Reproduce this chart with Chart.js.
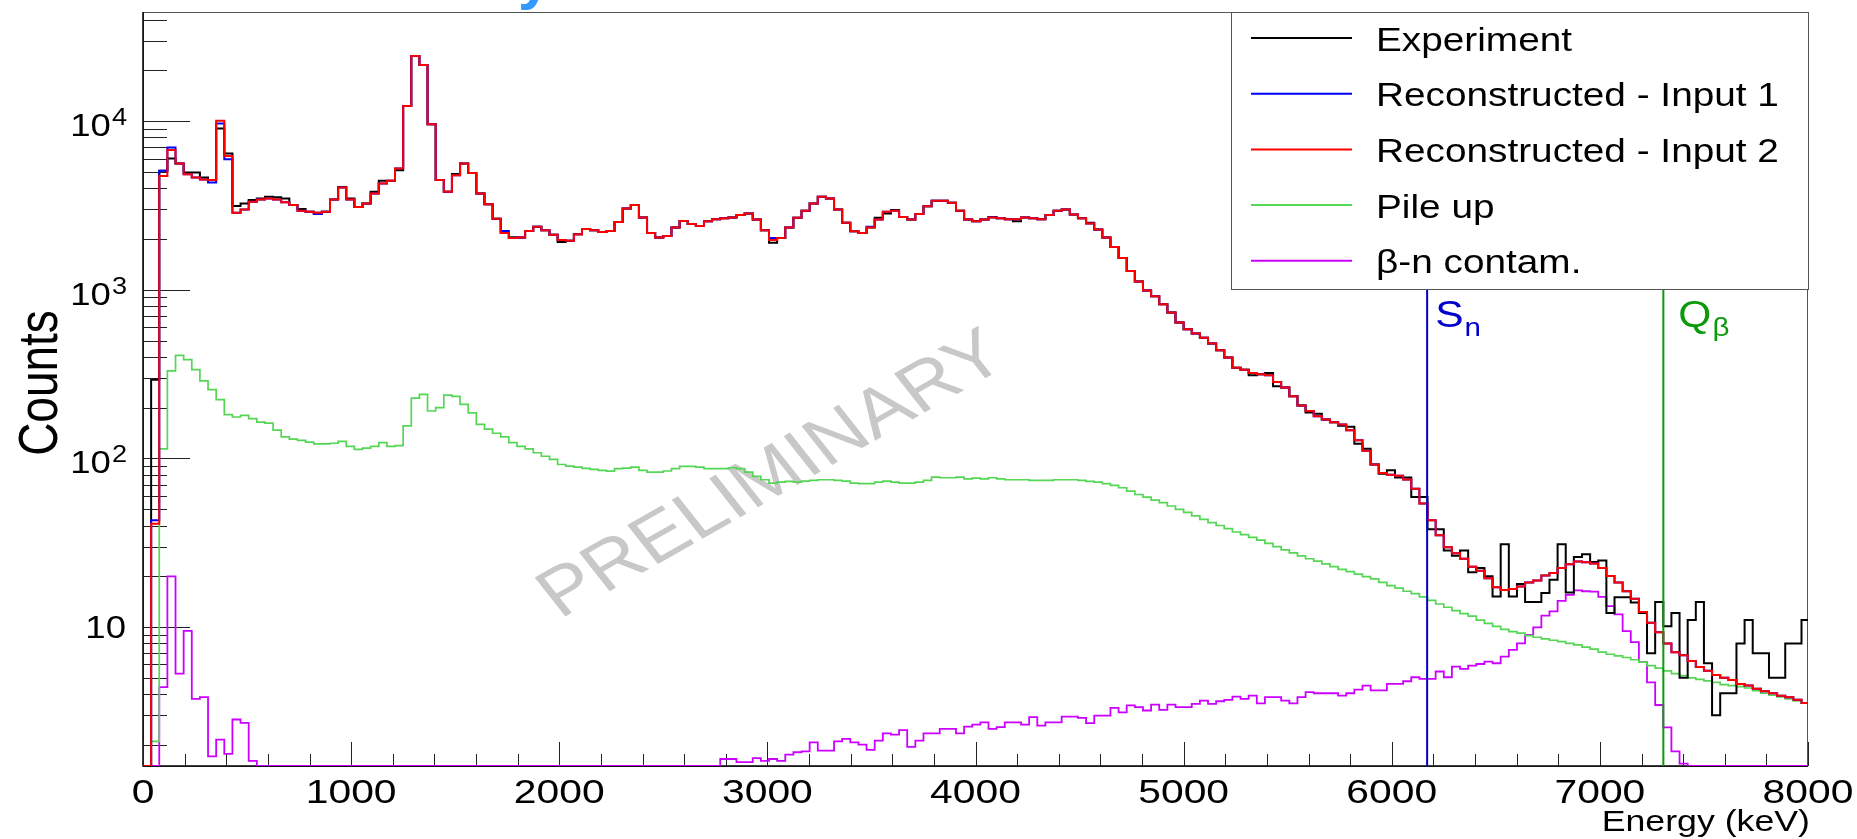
<!DOCTYPE html>
<html>
<head>
<meta charset="utf-8">
<script src="https://cdn.jsdelivr.net/npm/chart.js@4.4.1/dist/chart.umd.min.js"></script>
<style>
  html, body { margin: 0; padding: 0; background: #fff; }
  canvas { display: block; }
</style>
</head>
<body>
<canvas id="spectrum" width="1857" height="839"></canvas>
<script>
// histogram bin width in keV (bins start at 0)
const BIN_WIDTH = 39.0625;

const experiment = [
  0, 293, 5070, 6010, 5610, 4950, 4950, 4630, 4470, 9050,
  6430, 3140, 3250, 3400, 3480, 3560, 3530, 3480, 3180, 3010,
  2900, 2860, 2900, 3430, 4070, 3480, 3100, 3250, 3810, 4430,
  4430, 5110, 12270, 24300, 21500, 9590, 4470, 3810, 4860, 5610,
  4930, 3720, 3210, 2640, 2170, 2050, 2040, 2230, 2360, 2250,
  2120, 1920, 1950, 2130, 2290, 2250, 2200, 2230, 2520, 3030,
  3180, 2680, 2170, 2040, 2080, 2340, 2560, 2450, 2390, 2550,
  2620, 2650, 2680, 2770, 2830, 2610, 2250, 1900, 2030, 2340,
  2670, 2940, 3250, 3560, 3480, 2990, 2500, 2220, 2170, 2340,
  2670, 2830, 2970, 2700, 2610, 2810, 3130, 3370, 3370, 3280,
  2940, 2610, 2550, 2610, 2700, 2650, 2620, 2550, 2680, 2650,
  2620, 2770, 2940, 2990, 2790, 2650, 2500, 2280, 2040, 1790,
  1540, 1290, 1120, 990, 914, 820, 732, 639, 583, 550,
  520, 480, 438, 396, 345, 336, 311, 315, 321, 268,
  263, 234, 206, 187, 184, 170, 164, 156, 154, 122,
  114, 92, 81, 85, 77, 77, 59, 59, 38, 38,
  28.4, 26.5, 28.4, 21.1, 22.4, 20, 15.2, 31, 15.2, 18,
  14.1, 14.1, 15.9, 19.1, 31, 16, 26, 27, 24.3, 24.8,
  12.1, 15, 15, 14, 12.1, 7.0, 14.1, 10.1, 12.1, 5.0,
  11, 14.1, 6.1, 3.0, 4.05, 4.05, 8.0, 11, 7.0, 7.0,
  5.0, 5.0, 8.0, 8.0, 11
];

const input1 = [
  0, 43, 5070, 6980, 5610, 4840, 4630, 4510, 4330, 9690,
  5950, 2860, 2990, 3320, 3430, 3480, 3430, 3300, 3180, 2940,
  2900, 2810, 2900, 3430, 4040, 3430, 3100, 3250, 3720, 4270,
  4430, 5240, 12270, 24300, 21500, 9590, 4470, 3810, 4780, 5610,
  4930, 3720, 3210, 2640, 2230, 2030, 2040, 2230, 2360, 2250,
  2120, 1970, 1950, 2130, 2290, 2250, 2200, 2230, 2520, 3030,
  3180, 2680, 2170, 2040, 2080, 2340, 2560, 2450, 2390, 2550,
  2620, 2650, 2680, 2770, 2830, 2610, 2250, 2030, 2030, 2340,
  2670, 2940, 3250, 3560, 3480, 2990, 2500, 2220, 2170, 2360,
  2610, 2900, 2940, 2700, 2610, 2810, 3130, 3370, 3370, 3280,
  2940, 2610, 2550, 2610, 2680, 2650, 2620, 2620, 2680, 2650,
  2620, 2770, 2940, 2990, 2790, 2650, 2470, 2280, 2040, 1790,
  1540, 1290, 1120, 990, 914, 820, 732, 639, 583, 550,
  520, 480, 438, 396, 345, 336, 321, 315, 311, 284,
  263, 234, 206, 191, 178, 170, 164, 159, 147, 128,
  111, 92, 82, 80, 79, 75, 66, 54, 43, 35,
  29.7, 27.4, 25.4, 22.8, 21.6, 19.5, 17.2, 16.6, 16.8, 17.4,
  18.4, 18.9, 20.2, 20.9, 22.4, 23.6, 24.5, 24.2, 23.8, 22.4,
  20.1, 18.4, 16.3, 14.7, 12.3, 10.6, 9.3, 8.0, 7.1, 6.8,
  6.3, 5.8, 5.5, 5.2, 5.0, 4.85, 4.6, 4.5, 4.3, 4.16,
  4.05, 3.92, 3.83, 3.71, 3.55
];

const input2 = [
  0, 41, 4730, 6730, 5610, 4840, 4630, 4510, 4470, 10040,
  6200, 2860, 2990, 3320, 3430, 3480, 3430, 3300, 3180, 2940,
  2900, 2860, 2900, 3430, 4040, 3430, 3100, 3250, 3720, 4270,
  4430, 5240, 12270, 24300, 21500, 9590, 4470, 3810, 4780, 5610,
  4930, 3720, 3210, 2640, 2170, 2030, 2040, 2230, 2360, 2250,
  2120, 1970, 1950, 2130, 2290, 2250, 2200, 2230, 2520, 3030,
  3180, 2680, 2170, 2040, 2080, 2340, 2560, 2450, 2390, 2550,
  2620, 2650, 2680, 2770, 2830, 2610, 2250, 1970, 2030, 2340,
  2670, 2940, 3250, 3560, 3480, 2990, 2500, 2220, 2170, 2340,
  2610, 2900, 2940, 2700, 2610, 2810, 3130, 3370, 3370, 3280,
  2940, 2610, 2550, 2610, 2680, 2650, 2620, 2620, 2680, 2650,
  2620, 2770, 2940, 2990, 2790, 2650, 2470, 2280, 2040, 1790,
  1540, 1290, 1120, 990, 914, 820, 732, 639, 583, 550,
  520, 480, 438, 396, 345, 336, 321, 315, 311, 284,
  263, 234, 206, 191, 178, 170, 164, 159, 147, 128,
  111, 92, 82, 80, 79, 75, 66, 54, 43, 35,
  29.7, 27.4, 25.4, 22.8, 21.6, 19.5, 17.2, 16.6, 16.8, 17.4,
  18.4, 18.9, 20.2, 20.9, 22.4, 23.6, 24.5, 24.2, 23.8, 22.4,
  20.1, 18.4, 16.3, 14.7, 12.3, 10.6, 9.3, 8.0, 7.1, 6.8,
  6.3, 5.8, 5.5, 5.2, 5.0, 4.85, 4.6, 4.5, 4.3, 4.16,
  4.05, 3.92, 3.83, 3.71, 3.55
];

const pileUp = [
  0, 2.1, 114, 330, 408, 385, 336, 288, 256, 223,
  182, 176, 180, 172, 164, 162, 147, 134, 130, 128,
  125, 122, 122, 123, 126, 118, 113, 115, 118, 124,
  118, 119, 156, 228, 240, 191, 200, 237, 233, 209,
  186, 159, 149, 141, 134, 124, 118, 114, 108, 103,
  98.6, 92, 90, 88.7, 87.2, 86, 84.9, 84.1, 86.9, 87.6,
  88.7, 85, 83, 83, 84.2, 87, 89.7, 89.7, 88.8, 87,
  87, 87, 88, 87, 83, 78.2, 74.7, 71.3, 72.3, 73.1,
  72.3, 73.3, 74, 74.7, 74.7, 74, 73.3, 71.3, 70.8, 70.8,
  72.3, 73.3, 72.3, 71.3, 71.3, 72.3, 74, 77.4, 76.8, 76.8,
  77.4, 75.7, 76.4, 75.7, 76.8, 75.7, 74.7, 74.7, 74.7, 74,
  74, 74, 74.7, 74.7, 74.7, 74, 73.1, 72.3, 70.8, 69.2,
  67, 64, 61.1, 59, 56.5, 54.6, 52.2, 49.9, 47.8, 45.6,
  43.5, 41.6, 40, 38.3, 36.6, 35.3, 34, 32.8, 31.3, 30,
  28.7, 27.5, 26.4, 25.4, 24.6, 23.7, 22.8, 22, 21.3, 20.6,
  19.9, 19.3, 18.4, 17.6, 17, 16.3, 15.8, 15.1, 14.4, 13.7,
  13.1, 12.5, 12.0, 11.6, 11.0, 10.5, 10.1, 9.7, 9.4, 9.2,
  8.9, 8.7, 8.5, 8.35, 8.2, 8.0, 7.85, 7.6, 7.4, 7.1,
  6.9, 6.75, 6.6, 6.4, 6.2, 5.9, 5.7, 5.5, 5.3, 5.15,
  5.0, 4.9, 4.8, 4.7, 4.56, 4.5, 4.43, 4.35, 4.2, 4.05,
  3.95, 3.85, 3.75, 3.65, 3.55
];

const betaN = [
  0, 0, 4.4, 20, 5.3, 9.5, 3.75, 3.84, 1.71, 2.15,
  1.77, 2.83, 2.7, 1.61, 0, 0, 0, 0, 0, 0,
  0, 0, 0, 0, 0, 0, 0, 0, 0, 0,
  0, 0, 0, 0, 0, 0, 0, 0, 0, 0,
  0, 0, 0, 0, 0, 0, 0, 0, 0, 0,
  0, 0, 0, 0, 0, 0, 0, 0, 0, 0,
  0, 0, 0, 0, 0, 0, 0, 0, 0, 0,
  0, 1.65, 1.65, 1.58, 1.58, 1.67, 1.61, 1.65, 1.61, 1.75,
  1.81, 1.83, 2.07, 1.85, 1.85, 2.10, 2.17, 2.07, 2.01, 1.87,
  2.12, 2.34, 2.30, 2.45, 1.95, 2.12, 2.34, 2.34, 2.49, 2.49,
  2.34, 2.57, 2.64, 2.72, 2.49, 2.55, 2.72, 2.72, 2.64, 2.92,
  2.60, 2.72, 2.72, 2.94, 2.94, 2.89, 2.69, 2.98, 2.98, 3.32,
  3.12, 3.43, 3.35, 3.2, 3.47, 3.23, 3.47, 3.35, 3.35, 3.50,
  3.66, 3.50, 3.63, 3.70, 3.87, 3.75, 3.92, 3.53, 3.84, 3.84,
  3.66, 3.53, 3.84, 4.11, 4.05, 4.05, 4.05, 3.92, 4.05, 4.25,
  4.5, 4.21, 4.21, 4.6, 4.6, 4.77, 5.04, 4.93, 4.93, 5.45,
  5.04, 5.83, 5.65, 5.91, 6.04, 6.24, 6.1, 6.68, 7.32, 8.0,
  8.98, 9.96, 11.7, 12.4, 14.3, 15.5, 16.5, 16.3, 16.2, 15.1,
  13.3, 11.9, 9.45, 8.15, 6.2, 4.7, 3.45, 2.54, 1.83, 1.55,
  0, 0, 0, 0, 0, 0, 0, 0, 0, 0,
  0, 0, 0, 0, 0
];

const SERIES_NAMES = ['Experiment', 'Reconstructed - Input 1', 'Reconstructed - Input 2', 'Pile up', 'β-n contam.'];
const X_TICKS = [0, 1000, 2000, 3000, 4000, 5000, 6000, 7000, 8000];
const Y_TICKS = [10, 100, 1000, 10000];
const Y_TICK_LABELS = ['10', '10^2', '10^3', '10^4'];
const X_TITLE = 'Energy (keV)';
const Y_TITLE = 'Counts';
const WATERMARK = 'PRELIMINARY';
// separation energy and Q value (keV)
const MARKER_LABELS = [['S', 'n'], ['Q', 'β']];
const MARKER_ENERGIES = [6170, 7305];

const X_MIN = 0, X_MAX = 8000;
const Y_MIN = 1.5, Y_MAX = 44350;

const FONT = "'Liberation Sans', Arial, Helvetica, sans-serif";
const STRETCH = 1.18; // the picture is a bit wider than tall text would be

// empty bins sit on the bottom of the frame like in ROOT
function histPoints(values) {
  const pts = values.map((v, i) => ({ x: i * BIN_WIDTH, y: v > 0 ? v : Y_MIN }));
  pts.push({ x: values.length * BIN_WIDTH, y: pts[pts.length - 1].y });
  return pts;
}

function stretchedText(ctx, str, x, y, size, align, sx) {
  ctx.save();
  ctx.translate(x, y);
  ctx.scale(sx || STRETCH, 1);
  ctx.font = size + 'px ' + FONT;
  ctx.textAlign = align || 'left';
  ctx.textBaseline = 'alphabetic';
  ctx.fillText(str, 0, 0);
  ctx.restore();
}

function textWidth(ctx, str, size, sx) {
  ctx.save();
  ctx.font = size + 'px ' + FONT;
  const w = ctx.measureText(str).width * (sx || STRETCH);
  ctx.restore();
  return w;
}

const rootStyle = {
  id: 'rootStyle',
  beforeDatasetsDraw(chart) {
    const { ctx, chartArea: a, scales: { x, y } } = chart;
    ctx.save();

    // watermark
    ctx.save();
    ctx.translate(773, 476);
    ctx.scale(STRETCH, 1);
    ctx.rotate(-33.8 * Math.PI / 180);
    ctx.fillStyle = '#c8c8c8';
    ctx.font = '68px ' + FONT;
    ctx.textAlign = 'center';
    ctx.textBaseline = 'middle';
    ctx.fillText(WATERMARK, 0, 0);
    ctx.restore();

    // frame
    ctx.strokeStyle = '#555';
    ctx.lineWidth = 1;
    ctx.strokeRect(a.left + 0.5, a.top + 0.5, a.right - a.left - 1, a.bottom - a.top);
    ctx.strokeStyle = '#000';
    ctx.lineWidth = 1.5;
    ctx.beginPath();
    ctx.moveTo(a.left, a.top);
    ctx.lineTo(a.left, a.bottom);
    ctx.lineTo(a.right, a.bottom);
    ctx.stroke();

    // ticks
    ctx.strokeStyle = '#222';
    ctx.lineWidth = 1;
    ctx.beginPath();
    for (let e = X_MIN; e <= X_MAX; e += 200) {
      const px = Math.round(x.getPixelForValue(e)) + 0.5;
      const len = e % 1000 === 0 ? 24 : 12;
      ctx.moveTo(px, a.bottom);
      ctx.lineTo(px, a.bottom - len);
    }
    for (let d = 1; d <= 10000; d *= 10) {
      for (let m = 1; m <= 9; m++) {
        const v = m * d;
        if (v < Y_MIN || v > Y_MAX) continue;
        const py = Math.round(y.getPixelForValue(v)) + 0.5;
        const len = (m === 1 && v >= 10) ? 47 : 24;
        ctx.moveTo(a.left, py);
        ctx.lineTo(a.left + len, py);
      }
    }
    ctx.stroke();
    ctx.restore();
  },
  afterDatasetsDraw(chart) {
    const { ctx, chartArea: a, scales: { x } } = chart;
    ctx.save();

    // Sn and Q-beta markers
    const markerColors = ['#0000cc', '#0a9a0a'];
    const labelOffsets = [8, 15];
    MARKER_ENERGIES.forEach((e, i) => {
      const px = x.getPixelForValue(e);
      ctx.strokeStyle = markerColors[i];
      ctx.lineWidth = 2;
      ctx.beginPath();
      ctx.moveTo(px, a.top);
      ctx.lineTo(px, a.bottom);
      ctx.stroke();
      ctx.fillStyle = markerColors[i];
      const [main, sub] = MARKER_LABELS[i];
      const lx = px + labelOffsets[i];
      stretchedText(ctx, main, lx, 327, 36);
      stretchedText(ctx, sub, lx + textWidth(ctx, main, 36) + 1, 336, 25);
    });

    // legend box
    const box = { left: 1231, top: 12, right: 1809, bottom: 289 };
    ctx.fillStyle = '#fff';
    ctx.fillRect(box.left, box.top, box.right - box.left, box.bottom - box.top);
    ctx.strokeStyle = '#555';
    ctx.lineWidth = 1;
    ctx.strokeRect(box.left + 0.5, box.top + 0.5, box.right - box.left - 1, box.bottom - box.top);
    chart.data.datasets.forEach((ds, i) => {
      const ry = 38 + i * 55.7;
      ctx.strokeStyle = ds.borderColor;
      ctx.lineWidth = 2;
      ctx.beginPath();
      ctx.moveTo(1251, ry);
      ctx.lineTo(1352, ry);
      ctx.stroke();
      ctx.fillStyle = '#000';
      stretchedText(ctx, ds.label, 1376, ry + 12.5, 34, 'left', 1.14);
    });
    ctx.restore();
  },
  afterDraw(chart) {
    const { ctx, scales: { x, y } } = chart;
    ctx.save();
    ctx.fillStyle = '#000';

    // x tick labels
    X_TICKS.forEach(t => {
      stretchedText(ctx, String(t), x.getPixelForValue(t), 803, 34, 'center', 1.2);
    });

    // y tick labels, ROOT style powers of ten
    Y_TICKS.forEach((t, i) => {
      const py = y.getPixelForValue(t);
      const parts = Y_TICK_LABELS[i].split('^');
      if (parts.length === 1) {
        stretchedText(ctx, parts[0], 126, py + 11, 31, 'right');
      } else {
        const ws = textWidth(ctx, parts[1], 23);
        stretchedText(ctx, parts[1], 127 - ws, py + 4, 23, 'left');
        stretchedText(ctx, parts[0], 127 - ws - 1, py + 15, 31, 'right');
      }
    });

    // axis titles
    stretchedText(ctx, X_TITLE, 1810, 831, 30, 'right', 1.19);
    ctx.save();
    ctx.translate(57, 383);
    ctx.rotate(-Math.PI / 2);
    ctx.scale(1, 1.2);
    ctx.font = '46px ' + FONT;
    ctx.textAlign = 'center';
    ctx.textBaseline = 'alphabetic';
    ctx.fillText(Y_TITLE, 0, 0);
    ctx.restore();

    // tail of the clipped title above the frame
    ctx.fillStyle = '#3399ff';
    ctx.font = 'bold 60px ' + FONT;
    ctx.textAlign = 'left';
    ctx.textBaseline = 'alphabetic';
    ctx.fillText('y', 518, -2);
    ctx.restore();
  }
};

const seriesValues = [experiment, input1, input2, pileUp, betaN];
const seriesColors = ['#000000', '#0000ff', '#ff0000', '#55d655', '#cc00ff'];
const seriesWidths = [2, 2, 2, 1.7, 1.8];
const drawOrder = [2, 1, 0, 3, 4];

new Chart(document.getElementById('spectrum'), {
  type: 'line',
  data: {
    datasets: seriesValues.map((vals, i) => ({
      label: SERIES_NAMES[i],
      data: histPoints(vals),
      borderColor: seriesColors[i],
      borderWidth: seriesWidths[i],
      stepped: 'before',
      pointRadius: 0,
      fill: false,
      order: drawOrder[i],
      borderJoinStyle: 'miter'
    }))
  },
  options: {
    responsive: false,
    animation: false,
    devicePixelRatio: 1,
    events: [],
    layout: { padding: { left: 143, top: 12, right: 49, bottom: 73 } },
    plugins: { legend: { display: false }, tooltip: { enabled: false } },
    scales: {
      x: { type: 'linear', min: X_MIN, max: X_MAX, display: false },
      y: { type: 'logarithmic', min: Y_MIN, max: Y_MAX, display: false }
    }
  },
  plugins: [rootStyle]
});
</script>
</body>
</html>
